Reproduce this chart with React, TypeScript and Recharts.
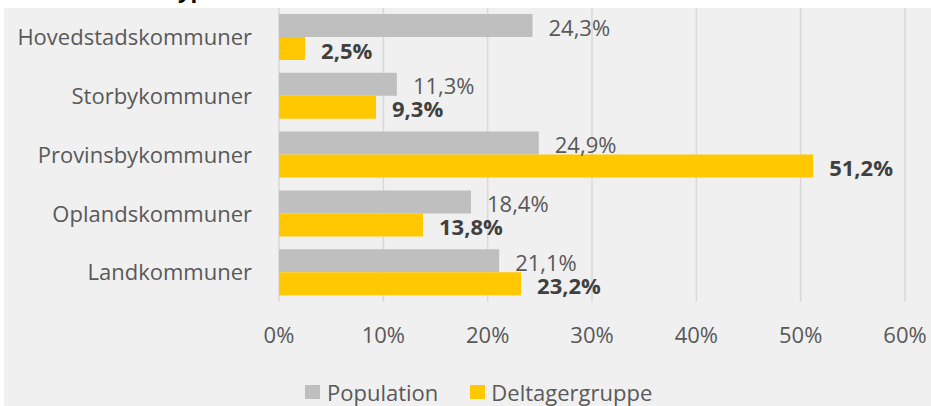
import React from 'react';
import { BarChart, Bar, XAxis, YAxis, CartesianGrid, LabelList } from 'recharts';

const categories = ['Hovedstadskommuner', 'Storbykommuner', 'Provinsbykommuner', 'Oplandskommuner', 'Landkommuner'];
const population = [24.3, 11.3, 24.9, 18.4, 21.1];
const deltagere = [2.5, 9.3, 51.2, 13.8, 23.2];
const xTicks = [0, 10, 20, 30, 40, 50, 60];

const data = categories.map((name, i) => ({
  name,
  population: population[i],
  deltagere: deltagere[i],
}));

const FONT = '"Open Sans", "Noto Sans", sans-serif';
const GRAY = '#bfbfbf';
const YELLOW = '#ffc800';

const fmt = (v: number) => `${String(v).replace('.', ',')}%`;

// value label to the right of each bar, nudged a little below the bar centre
const makeLabel = (bold: boolean) => (props: any) => {
  const { x, y, width, height, value } = props;
  return (
    <text
      x={x + width + 16}
      y={y + height / 2 + 10}
      fontSize={22}
      fontFamily={FONT}
      fontWeight={bold ? 700 : 400}
      fill={bold ? '#404040' : '#595959'}
    >
      {fmt(value)}
    </text>
  );
};

const ChartLegend = () => (
  <div
    style={{
      position: 'absolute',
      left: 301,
      top: 369,
      display: 'flex',
      alignItems: 'center',
      fontFamily: FONT,
      fontSize: 22,
      lineHeight: '30px',
      color: '#595959',
      whiteSpace: 'nowrap',
    }}
  >
    <span style={{ width: 15, height: 14, background: GRAY, display: 'inline-block', marginRight: 7 }} />
    <span style={{ marginRight: 32 }}>Population</span>
    <span style={{ width: 15, height: 14, background: YELLOW, display: 'inline-block', marginRight: 6 }} />
    <span>Deltagergruppe</span>
  </div>
);

const App = () => (
  <div style={{ position: 'absolute', left: 0, top: 0, width: 931, height: 406, background: '#ffffff', overflow: 'hidden' }}>
    {/* title is cropped in the reference, only its descenders show */}
    <div
      style={{
        position: 'absolute',
        left: 55,
        top: -22.5,
        fontFamily: FONT,
        fontSize: 22,
        lineHeight: '22px',
        fontWeight: 700,
        color: '#000000',
        whiteSpace: 'nowrap',
      }}
    >
      Kommunetype
    </div>
    <div style={{ position: 'absolute', left: 4, top: 8, width: 927, height: 398, background: '#f0f0f0' }}>
      <BarChart
        width={927}
        height={398}
        data={data}
        layout="vertical"
        margin={{ top: 0, right: 26, bottom: 54, left: 0 }}
        barGap={0}
      >
        <CartesianGrid horizontal={false} stroke="#d9d9d9" strokeWidth={1.5} />
        <XAxis
          type="number"
          domain={[0, 60]}
          ticks={xTicks}
          tickFormatter={(v) => `${v}%`}
          axisLine={false}
          tickLine={false}
          tickSize={0}
          tickMargin={25}
          height={50}
          interval={0}
          tick={{ fontSize: 22, fontFamily: FONT, fill: '#595959' }}
        />
        <YAxis
          type="category"
          dataKey="name"
          width={275}
          axisLine={false}
          tickLine={false}
          tickSize={0}
          tickMargin={27}
          tick={{ fontSize: 22, fontFamily: FONT, fill: '#595959' }}
        />
        <Bar dataKey="population" name="Population" fill={GRAY} barSize={23} isAnimationActive={false}>
          <LabelList dataKey="population" content={makeLabel(false)} />
        </Bar>
        <Bar dataKey="deltagere" name="Deltagergruppe" fill={YELLOW} barSize={23} isAnimationActive={false}>
          <LabelList dataKey="deltagere" content={makeLabel(true)} />
        </Bar>
      </BarChart>
      <ChartLegend />
    </div>
  </div>
);

export default App;
